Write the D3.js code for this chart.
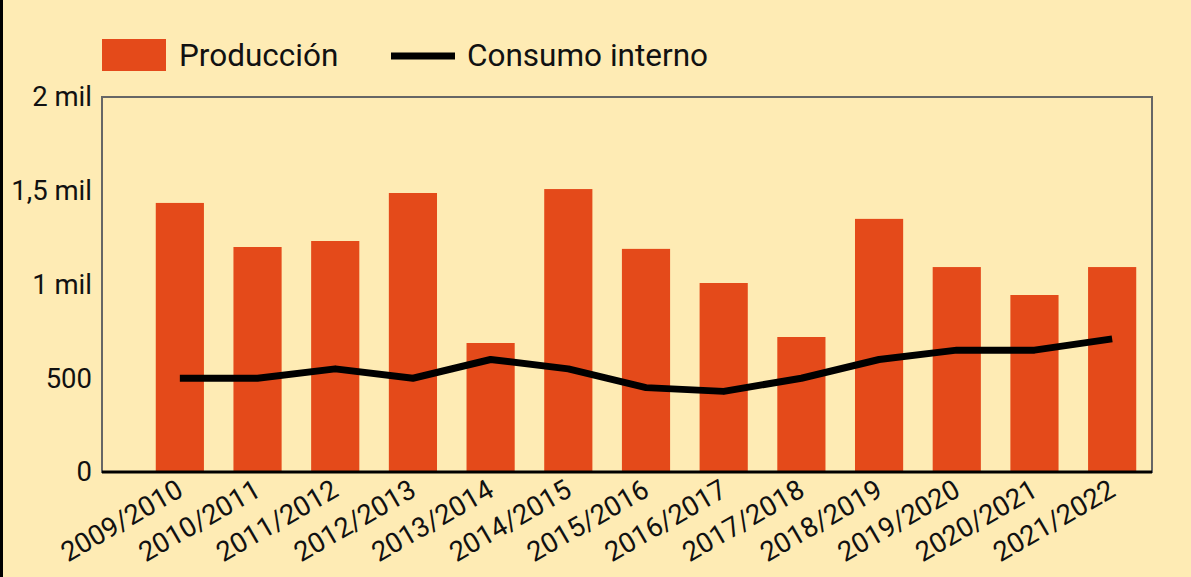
<html>
<head>
<meta charset="utf-8">
<script src="https://d3js.org/d3.v7.min.js"></script>
<style>
  body { margin: 0; background: #feebb4; }
  svg { display: block; font-family: Roboto, sans-serif; }
</style>
</head>
<body>
<svg id="chart" width="1191" height="577"></svg>
<script>
const seasons = ["2009/2010","2010/2011","2011/2012","2012/2013","2013/2014","2014/2015","2015/2016","2016/2017","2017/2018","2018/2019","2019/2020","2020/2021","2021/2022"];
const produccion = [1435, 1200, 1232, 1488, 688, 1509, 1190, 1008, 720, 1350, 1093, 944, 1093];
const consumo = [500, 500, 550, 500, 600, 550, 450, 430, 500, 600, 650, 650, 710];
const yTicks = [0, 500, 1000, 1500, 2000];
const yTickLabels = ["0", "500", "1 mil", "1,5 mil", "2 mil"];

const svg = d3.select("#chart");
const plotLeft = 102, plotRight = 1152, plotTop = 97, plotBottom = 472;

// background + left border
svg.append("rect").attr("width", 1191).attr("height", 577).attr("fill", "#feebb4");
svg.append("rect").attr("x", 0).attr("y", 0).attr("width", 3).attr("height", 577).attr("fill", "#000");

const x = d3.scaleBand().domain(seasons).range([141, 1151]).paddingInner(0.38).paddingOuter(0.19);
const y = d3.scaleLinear().domain([0, 2000]).range([plotBottom, plotTop]);

// frame
svg.append("rect").attr("x", plotLeft).attr("y", plotTop).attr("width", plotRight - plotLeft).attr("height", plotBottom - plotTop)
  .attr("fill", "none").attr("stroke", "#666").attr("stroke-width", 2);

// bars
svg.append("g").selectAll("rect").data(seasons).enter().append("rect")
  .attr("x", d => x(d))
  .attr("width", x.bandwidth())
  .attr("y", (d, i) => y(produccion[i]))
  .attr("height", (d, i) => y(0) - y(produccion[i]))
  .attr("fill", "#e44a1a");

// bottom axis line
svg.append("line").attr("x1", plotLeft).attr("x2", plotRight).attr("y1", plotBottom).attr("y2", plotBottom)
  .attr("stroke", "#000").attr("stroke-width", 3);

// consumo line
const line = d3.line().x((d, i) => x(seasons[i]) + x.bandwidth() / 2).y(d => y(d));
svg.append("path").datum(consumo).attr("d", line)
  .attr("fill", "none").attr("stroke", "#000").attr("stroke-width", 7).attr("stroke-linejoin", "round");

// y axis labels
const yAxis = d3.axisLeft(y).tickValues(yTicks).tickSize(0).tickPadding(10)
  .tickFormat((d, i) => yTickLabels[i]);
svg.append("g").attr("transform", "translate(" + plotLeft + ",0)").call(yAxis)
  .call(g => g.select(".domain").remove())
  .selectAll("text").attr("font-size", 27.5).attr("font-family", "Roboto, sans-serif").attr("fill", "#111");

// x axis labels
const xAxis = d3.axisBottom(x).tickSize(0).tickPadding(0);
svg.append("g").attr("transform", "translate(0," + plotBottom + ")").call(xAxis)
  .call(g => g.select(".domain").remove())
  .selectAll("text")
  .attr("font-size", 27.5).attr("font-family", "Roboto, sans-serif").attr("fill", "#111")
  .attr("text-anchor", "end").attr("dy", null).attr("y", 0)
  .attr("transform", "translate(5,23) rotate(-30)");

// legend
const lg = svg.append("g");
lg.append("rect").attr("x", 102).attr("y", 39).attr("width", 64).attr("height", 32).attr("fill", "#e44a1a");
lg.append("text").attr("x", 179).attr("y", 66).attr("font-size", 31.5).attr("fill", "#111").text("Producción");
lg.append("line").attr("x1", 391).attr("x2", 455).attr("y1", 56).attr("y2", 56).attr("stroke", "#000").attr("stroke-width", 7);
lg.append("text").attr("x", 467).attr("y", 66).attr("font-size", 31.5).attr("fill", "#111").text("Consumo interno");
</script>
</body>
</html>
